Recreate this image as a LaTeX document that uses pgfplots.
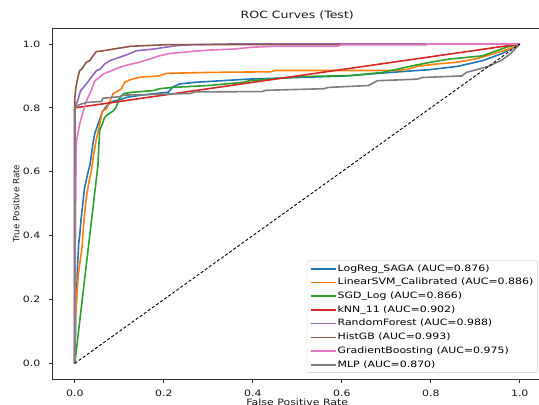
\documentclass[border=0pt]{standalone}
\usepackage{fontspec}
\setmainfont{DejaVu Sans}[FakeStretch=1.25]
\newfontfamily\ylfont{DejaVu Sans}
\usepackage{pgfplots}
\pgfplotsset{compat=1.18}

\definecolor{tabblue}{HTML}{1F77B4}
\definecolor{taborange}{HTML}{FF7F0E}
\definecolor{tabgreen}{HTML}{2CA02C}
\definecolor{tabred}{HTML}{D62728}
\definecolor{tabpurple}{HTML}{9467BD}
\definecolor{tabbrown}{HTML}{8C564B}
\definecolor{tabpink}{HTML}{E377C2}
\definecolor{tabgray}{HTML}{7F7F7F}

\begin{document}
\begin{tikzpicture}
\begin{axis}[
    width=489pt, height=351pt, scale only axis,
    xmin=-0.05, xmax=1.05, ymin=-0.05, ymax=1.05,
    xtick={0,0.2,0.4,0.6,0.8,1}, ytick={0,0.2,0.4,0.6,0.8,1},
    xticklabels={0.0,0.2,0.4,0.6,0.8,1.0},
    yticklabels={0.0,0.2,0.4,0.6,0.8,1.0},
    tick align=outside, major tick length=3.5pt, tick pos=left,
    tick style={black!80, line width=0.8pt},
    axis line style={black!80, line width=0.8pt},
    ticklabel style={font=\fontsize{8.75}{10}\selectfont, text=black!90},
    xticklabel style={inner sep=0pt, anchor=north, yshift=-7.3pt},
    yticklabel style={inner sep=0pt, anchor=east, xshift=-8.5pt},
    title={ROC Curves (Test)},
    every axis title/.style={at={(axis description cs:0.5,1)}, anchor=base,
        yshift=9.4pt, font=\fontsize{10}{12}\selectfont, text=black!90},
    xlabel={False Positive Rate}, ylabel={True Positive Rate},
    every axis x label/.style={at={(axis description cs:0.5,-0.0655)},
        anchor=center, font=\fontsize{8.75}{10}\selectfont, text=black!90},
    every axis y label/.style={at={(axis description cs:-0.0746,0.5)},
        anchor=center, rotate=90, font=\ylfont\fontsize{8.75}{10}\selectfont, text=black!90},
    legend style={at={(axis description cs:1,0)}, anchor=south east,
        xshift=-4.5pt, yshift=6.5pt, draw=black!20, rounded corners=2pt,
        fill=white, fill opacity=0.8, text opacity=1,
        font=\fontsize{8.75}{10}\selectfont, inner xsep=3pt, inner ysep=2.5pt,
        row sep=3pt,
        nodes={inner sep=1pt, text height=6.6pt, text depth=2.1pt}},
    legend cell align=left,
    legend image code/.code={\draw[#1] (0pt,0pt) -- (25pt,0pt);},
]

% LogReg_SAGA
\addplot[tabblue, line width=1.6pt] coordinates {
(0,0) (0,0.05) (0.002,0.1) (0.002,0.17) (0.004,0.2) (0.006,0.3) (0.009,0.38)
(0.011,0.4) (0.014,0.45) (0.018,0.5) (0.022,0.55) (0.03,0.6) (0.034,0.62)
(0.038,0.66) (0.041,0.69) (0.045,0.72) (0.05,0.74) (0.055,0.76) (0.063,0.79)
(0.074,0.81) (0.085,0.82) (0.1,0.825) (0.116,0.833) (0.15,0.84) (0.21,0.849)
(0.22,0.865) (0.236,0.875) (0.27,0.88) (0.39,0.89) (0.5,0.895) (0.61,0.9)
(0.7,0.91) (0.8,0.92) (0.86,0.93) (0.917,0.948) (0.96,0.97) (0.98,0.985) (1,1)
};
\addlegendentry{LogReg\_SAGA (AUC=0.876)}

% LinearSVM_Calibrated
\addplot[taborange, line width=1.6pt] coordinates {
(0,0) (0,0.08) (0.002,0.15) (0.004,0.2) (0.008,0.28) (0.013,0.33) (0.016,0.36)
(0.018,0.4) (0.022,0.47) (0.026,0.52) (0.032,0.57) (0.037,0.6) (0.042,0.65)
(0.048,0.7) (0.055,0.74) (0.062,0.79) (0.071,0.797) (0.078,0.818) (0.086,0.844)
(0.105,0.86) (0.112,0.88) (0.124,0.888) (0.146,0.896) (0.19,0.9) (0.205,0.908)
(0.3,0.911) (0.44,0.913) (0.45,0.917) (0.72,0.917) (0.746,0.92) (0.77,0.93)
(0.81,0.937) (0.86,0.943) (0.9,0.953) (0.94,0.969) (0.977,0.985) (1,1)
};
\addlegendentry{LinearSVM\_Calibrated (AUC=0.886)}

% SGD_Log
\addplot[tabgreen, line width=1.6pt] coordinates {
(0,0) (0.052,0.62) (0.054,0.68) (0.056,0.73) (0.062,0.75) (0.067,0.77)
(0.075,0.78) (0.086,0.79) (0.092,0.80) (0.097,0.817) (0.1,0.83) (0.11,0.845)
(0.13,0.849) (0.176,0.854) (0.19,0.86) (0.22,0.864) (0.3,0.87) (0.378,0.88)
(0.393,0.885) (0.506,0.898) (0.618,0.901) (0.692,0.911) (0.76,0.932)
(0.8,0.943) (0.843,0.953) (0.917,0.963) (0.97,0.99) (1,1)
};
\addlegendentry{SGD\_Log (AUC=0.866)}

% kNN_11
\addplot[tabred, line width=1.6pt] coordinates {
(0,0) (0,0.80) (1,1)
};
\addlegendentry{kNN\_11 (AUC=0.902)}

% RandomForest
\addplot[tabpurple, line width=1.6pt] coordinates {
(0,0) (0,0.80) (0.004,0.813) (0.008,0.83) (0.013,0.854) (0.02,0.865)
(0.026,0.875) (0.037,0.896) (0.049,0.917) (0.056,0.92) (0.067,0.937)
(0.079,0.948) (0.1,0.958) (0.12,0.968) (0.139,0.979) (0.176,0.984)
(0.229,0.995) (0.265,0.998) (0.35,1) (1,1)
};
\addlegendentry{RandomForest (AUC=0.988)}

% HistGB
\addplot[tabbrown, line width=1.6pt] coordinates {
(0,0) (0,0.83) (0.002,0.86) (0.004,0.875) (0.007,0.896) (0.011,0.917)
(0.015,0.92) (0.026,0.943) (0.034,0.948) (0.041,0.963) (0.049,0.977)
(0.056,0.977) (0.086,0.984) (0.127,0.993) (0.21,0.998) (0.79,0.998)
(0.79,1) (1,1)
};
\addlegendentry{HistGB (AUC=0.993)}

% GradientBoosting
\addplot[tabpink, line width=1.6pt] coordinates {
(0,0) (0.001,0.3) (0.002,0.5) (0.003,0.65) (0.004,0.698) (0.007,0.72)
(0.011,0.75) (0.015,0.77) (0.019,0.79) (0.026,0.82) (0.032,0.84) (0.037,0.854)
(0.045,0.885) (0.055,0.895) (0.064,0.906) (0.08,0.915) (0.101,0.927)
(0.12,0.935) (0.146,0.943) (0.169,0.953) (0.19,0.963) (0.213,0.97)
(0.265,0.977) (0.303,0.981) (0.355,0.984) (0.4,0.99) (0.45,0.993)
(0.59,0.993) (0.6,0.998) (0.79,0.998) (0.79,1) (1,1)
};
\addlegendentry{GradientBoosting (AUC=0.975)}

% MLP
\addplot[tabgray, line width=1.6pt] coordinates {
(0,0) (0,0.80) (0.01,0.81) (0.026,0.817) (0.06,0.82) (0.063,0.83) (0.1,0.835)
(0.11,0.84) (0.26,0.845) (0.27,0.85) (0.42,0.851) (0.43,0.855) (0.56,0.86)
(0.57,0.864) (0.66,0.87) (0.68,0.885) (0.77,0.89) (0.78,0.895) (0.87,0.9)
(0.88,0.911) (0.93,0.93) (0.96,0.95) (0.98,0.97) (1,1)
};
\addlegendentry{MLP (AUC=0.870)}

% chance line
\addplot[black, line width=0.9pt, dash pattern=on 3pt off 2pt, forget plot]
coordinates {(0,0) (1,1)};

\end{axis}
\pgfresetboundingbox
\path[use as bounding box]
  ([xshift=-52.5pt,yshift=-25.5pt]current axis.south west)
  rectangle ([xshift=-3pt,yshift=28pt]current axis.north east);
\end{tikzpicture}
\end{document}
